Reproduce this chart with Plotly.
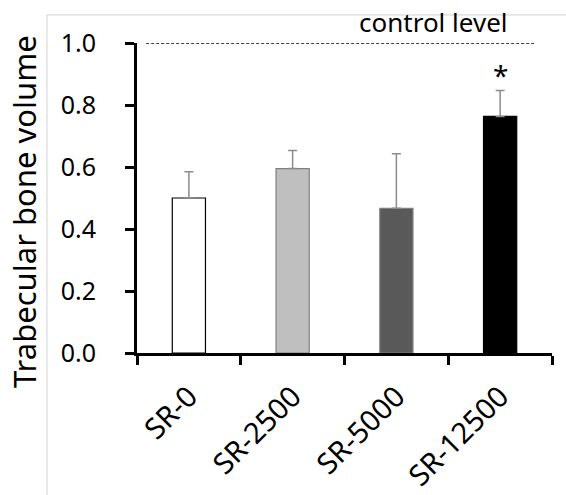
import plotly.graph_objects as go

categories = ["SR-0", "SR-2500", "SR-5000", "SR-12500"]
values = [0.50, 0.595, 0.467, 0.763]
err_plus = [0.085, 0.058, 0.176, 0.084]
fill_colors = ["#ffffff", "#bfbfbf", "#595959", "#000000"]
line_colors = ["#000000", "#808080", "#808080", "#000000"]
control_level = 1.0
y_ticks = [0.0, 0.2, 0.4, 0.6, 0.8, 1.0]

FONT = "Noto Sans"

fig = go.Figure()
fig.add_trace(go.Bar(
    x=categories, y=values,
    width=0.32,
    marker=dict(color=fill_colors, line=dict(color=line_colors, width=1.2)),
    error_y=dict(type="data", array=err_plus, symmetric=False,
                 arrayminus=[0] * len(values), color="#8c8c8c", thickness=1.5, width=4.5),
    showlegend=False,
))

fig.add_shape(type="line", xref="paper", yref="y", x0=0.022, x1=0.957,
              y0=control_level, y1=control_level,
              line=dict(color="black", width=1.3, dash="3px,2px"))
fig.add_annotation(text="control level", xref="paper", yref="y", x=0.714, y=control_level,
                   xanchor="center", yshift=1, yanchor="bottom", showarrow=False,
                   font=dict(family=FONT, size=26, color="black"))
fig.add_annotation(text="*", x=categories[3], y=values[3] + err_plus[3], yshift=-6,
                   yanchor="bottom", showarrow=False,
                   font=dict(family=FONT, size=28, color="black"))
fig.add_annotation(text="Trabecular bone volume", xref="paper", yref="paper",
                   x=-0.272, y=0.455, xanchor="center", yanchor="middle",
                   textangle=-90, showarrow=False,
                   font=dict(family=FONT, size=31, color="black"))

# light frame
fig.add_shape(type="line", xref="paper", yref="paper", x0=-0.217, x1=1.1, y0=1.0905, y1=1.0905,
              line=dict(color="#d0d0d0", width=1))
fig.add_shape(type="line", xref="paper", yref="paper", x0=-0.217, x1=-0.217, y0=1.0905, y1=-0.5,
              line=dict(color="#d0d0d0", width=1))

fig.update_layout(
    width=566, height=495,
    margin=dict(l=137, r=14, t=43, b=142, autoexpand=False),
    paper_bgcolor="white", plot_bgcolor="white",
    font=dict(family=FONT, color="black"),
)
fig.update_xaxes(
    showline=True, linecolor="black", linewidth=3,
    ticks="outside", ticklen=9, tickwidth=3, tickcolor="black",
    tickson="boundaries", tickangle=-45, ticklabelstandoff=12,
    tickfont=dict(size=29, family=FONT),
    showgrid=False,
)
fig.update_yaxes(
    range=[0, 1.0], tickvals=y_ticks, ticktext=[f"{v:.1f}" for v in y_ticks],
    showline=True, linecolor="black", linewidth=3,
    ticks="outside", ticklen=9, tickwidth=3, tickcolor="black", ticklabelstandoff=24,
    tickfont=dict(size=25, family=FONT), showgrid=False, zeroline=False,
)

fig.write_html("out.html", config={"displayModeBar": False},
               post_script="document.body.style.margin='0';")
